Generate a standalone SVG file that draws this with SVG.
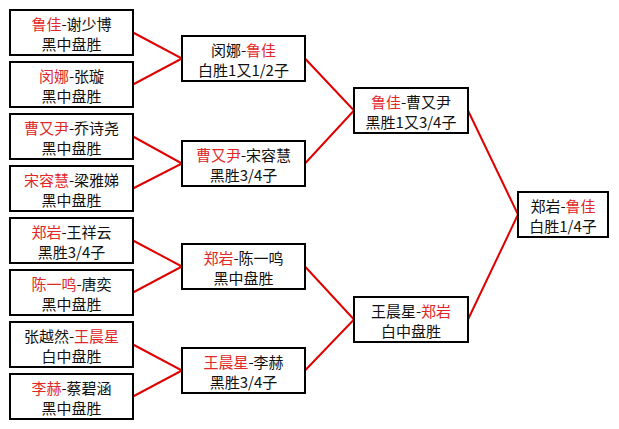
<svg xmlns="http://www.w3.org/2000/svg" width="619" height="429" viewBox="0 0 619 429">
<style>
.box{fill:#fff;stroke:#000;stroke-width:2}
.t{font-family:"Noto Sans CJK SC","Noto Sans CJK JP",sans-serif;font-size:15px;fill:#111;text-anchor:middle}
.r{fill:#e02828}
.c{stroke:#e00000;stroke-width:2;fill:none}
</style>
<rect width="619" height="429" fill="#fff"/>
<g id="connectors">
<polyline class="c" points="133,32.5 182,58.5 133,84.5"/>
<polyline class="c" points="133,136.5 182,163.5 133,188.5"/>
<polyline class="c" points="133,240.5 182,266.5 133,292.5"/>
<polyline class="c" points="133,344.5 182,370.5 133,396.5"/>
<polyline class="c" points="305,58.5 354,110.5 305,163.5"/>
<polyline class="c" points="305,266.5 354,319.5 305,370.5"/>
<polyline class="c" points="468,110.5 518,214.5 468,319.5"/>
</g>
<g id="L1"><rect class="box" x="10" y="10" width="123" height="45"/><text class="t" x="71.5" y="30"><tspan class="r">鲁佳</tspan>-谢少博</text><text class="t" x="71.5" y="50">黑中盘胜</text></g>
<g id="L2"><rect class="box" x="10" y="62" width="123" height="45"/><text class="t" x="71.5" y="82"><tspan class="r">闵娜</tspan>-张璇</text><text class="t" x="71.5" y="102">黑中盘胜</text></g>
<g id="L3"><rect class="box" x="10" y="114" width="123" height="45"/><text class="t" x="71.5" y="134"><tspan class="r">曹又尹</tspan>-乔诗尧</text><text class="t" x="71.5" y="154">黑中盘胜</text></g>
<g id="L4"><rect class="box" x="10" y="166" width="123" height="45"/><text class="t" x="71.5" y="186"><tspan class="r">宋容慧</tspan>-梁雅娣</text><text class="t" x="71.5" y="206">黑中盘胜</text></g>
<g id="L5"><rect class="box" x="10" y="218" width="123" height="45"/><text class="t" x="71.5" y="238"><tspan class="r">郑岩</tspan>-王祥云</text><text class="t" x="71.5" y="258">黑胜3/4子</text></g>
<g id="L6"><rect class="box" x="10" y="270" width="123" height="45"/><text class="t" x="71.5" y="290"><tspan class="r">陈一鸣</tspan>-唐奕</text><text class="t" x="71.5" y="310">黑中盘胜</text></g>
<g id="L7"><rect class="box" x="10" y="322" width="123" height="45"/><text class="t" x="71.5" y="342">张越然-<tspan class="r">王晨星</tspan></text><text class="t" x="71.5" y="362">白中盘胜</text></g>
<g id="L8"><rect class="box" x="10" y="374" width="123" height="45"/><text class="t" x="71.5" y="394"><tspan class="r">李赫</tspan>-蔡碧涵</text><text class="t" x="71.5" y="414">黑中盘胜</text></g>
<g id="R2A"><rect class="box" x="182" y="36" width="123" height="45"/><text class="t" x="243.5" y="56">闵娜-<tspan class="r">鲁佳</tspan></text><text class="t" x="243.5" y="76">白胜1又1/2子</text></g>
<g id="R2B"><rect class="box" x="182" y="141" width="123" height="45"/><text class="t" x="243.5" y="161"><tspan class="r">曹又尹</tspan>-宋容慧</text><text class="t" x="243.5" y="181">黑胜3/4子</text></g>
<g id="R2C"><rect class="box" x="182" y="244" width="123" height="45"/><text class="t" x="243.5" y="264"><tspan class="r">郑岩</tspan>-陈一鸣</text><text class="t" x="243.5" y="284">黑中盘胜</text></g>
<g id="R2D"><rect class="box" x="182" y="348" width="123" height="45"/><text class="t" x="243.5" y="368"><tspan class="r">王晨星</tspan>-李赫</text><text class="t" x="243.5" y="388">黑胜3/4子</text></g>
<g id="R3A"><rect class="box" x="354" y="88" width="114" height="45"/><text class="t" x="411" y="108"><tspan class="r">鲁佳</tspan>-曹又尹</text><text class="t" x="411" y="128">黑胜1又3/4子</text></g>
<g id="R3B"><rect class="box" x="354" y="297" width="114" height="45"/><text class="t" x="411" y="317">王晨星-<tspan class="r">郑岩</tspan></text><text class="t" x="411" y="337">白中盘胜</text></g>
<g id="F"><rect class="box" x="518" y="192" width="90" height="45"/><text class="t" x="563" y="212">郑岩-<tspan class="r">鲁佳</tspan></text><text class="t" x="563" y="232">白胜1/4子</text></g>
</svg>
